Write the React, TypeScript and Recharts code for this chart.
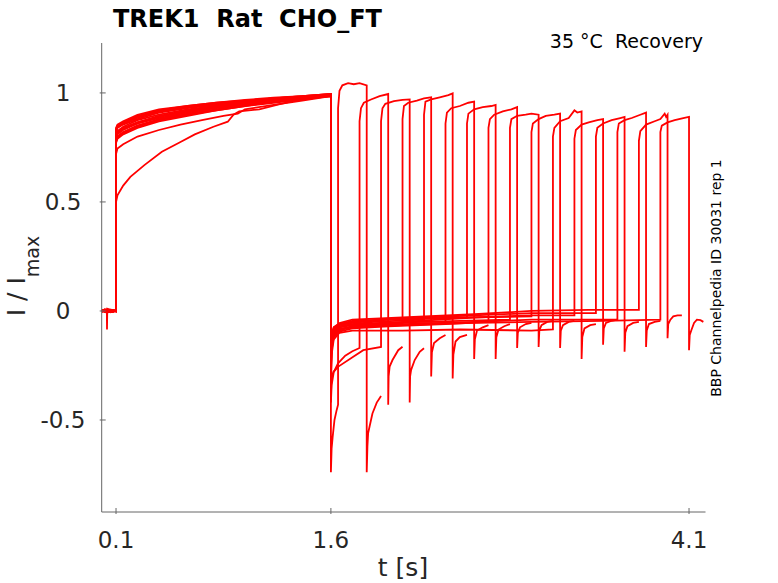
import React from 'react';
import { LineChart, Line, XAxis, YAxis } from 'recharts';

// recovery protocol, 16 sweeps, each as [t (s), I/Imax]
const sweep00 = [
  [0, 0.0], [0.02, 0.006], [0.036, -0.004], [0.037, -0.085], [0.039, 0.01], [0.07, 0.004], [0.1, 0.0],
  [0.1, 0.5], [0.11, 0.53], [0.15, 0.575], [0.2, 0.615], [0.3, 0.67], [0.42, 0.73], [0.55, 0.775], [0.65, 0.81], [0.78, 0.845], [0.88, 0.868], [0.92, 0.9], [0.96, 0.915], [1.1, 0.925], [1.25, 0.95], [1.35, 0.965], [1.5, 0.98], [1.6, 0.99],
  [1.6, -0.74], [1.605, -0.63], [1.612, -0.58], [1.625, -0.5], [1.64, -0.455], [1.65, -0.43],
  [1.65, 0.93], [1.66, 1.01], [1.68, 1.035], [1.72, 1.045], [1.76, 1.04], [1.8, 1.045], [1.85, 1.035],
  [1.85, -0.74], [1.855, -0.62], [1.86, -0.56], [1.87, -0.53], [1.89, -0.47], [1.92, -0.42], [1.95, -0.39],
];
const sweep01 = [
  [0, 0.004], [0.03, -0.006], [0.06, 0.005], [0.1, -0.002],
  [0.1, 0.72], [0.11, 0.745], [0.15, 0.765], [0.25, 0.8], [0.4, 0.83], [0.55, 0.855], [0.7, 0.875], [0.85, 0.895], [0.95, 0.905], [1.0, 0.925], [1.2, 0.945], [1.4, 0.965], [1.6, 0.985],
  [1.6, -0.42], [1.605, -0.34], [1.62, -0.28], [1.65, -0.24], [1.7, -0.205], [1.75, -0.185], [1.8, -0.17],
  [1.8, 0.87], [1.81, 0.93], [1.83, 0.955], [1.88, 0.97], [1.94, 0.985], [2.0, 0.995],
  [2.0, -0.43], [2.003, -0.3], [2.01, -0.255], [2.03, -0.225], [2.07, -0.18], [2.1, -0.164],
];
const sweep02 = [
  [0, -0.003], [0.04, 0.006], [0.07, -0.005], [0.1, 0.003],
  [0.1, 0.78], [0.11, 0.8], [0.15, 0.82], [0.25, 0.85], [0.4, 0.875], [0.6, 0.9], [0.8, 0.925], [1.0, 0.945], [1.2, 0.96], [1.4, 0.975], [1.6, 0.99],
  [1.6, -0.38], [1.605, -0.31], [1.617, -0.28], [1.652, -0.255], [1.756, -0.21], [1.826, -0.18], [1.95, -0.165],
  [1.95, 0.87], [1.96, 0.93], [1.98, 0.95], [2.04, 0.962], [2.1, 0.968], [2.15, 0.97],
  [2.15, -0.42], [2.153, -0.3], [2.16, -0.27], [2.185, -0.225], [2.22, -0.187], [2.25, -0.171],
];
const sweep03 = [
  [0, 0.002], [0.03, 0.008], [0.06, -0.004], [0.1, 0.001],
  [0.1, 0.83], [0.11, 0.845], [0.15, 0.86], [0.25, 0.89], [0.4, 0.915], [0.6, 0.935], [0.8, 0.95], [1.0, 0.965], [1.2, 0.975], [1.4, 0.985], [1.6, 0.995],
  [1.6, -0.28], [1.605, -0.16], [1.62, -0.11], [1.66, -0.085], [1.75, -0.075], [1.9, -0.065], [2.0, -0.06], [2.1, -0.055],
  [2.1, 0.88], [2.11, 0.94], [2.14, 0.955], [2.2, 0.965], [2.25, 0.975], [2.3, 0.98],
  [2.3, -0.3], [2.305, -0.19], [2.32, -0.147], [2.36, -0.125], [2.4, -0.11],
];
const sweep04 = [
  [0, -0.004], [0.02, 0.005], [0.05, -0.006], [0.08, 0.004], [0.1, 0.0],
  [0.1, 0.8], [0.11, 0.815], [0.15, 0.835], [0.25, 0.865], [0.4, 0.89], [0.6, 0.915], [0.8, 0.935], [1.0, 0.95], [1.2, 0.965], [1.4, 0.98], [1.6, 0.99],
  [1.6, -0.22], [1.605, -0.13], [1.62, -0.095], [1.66, -0.07], [1.75, -0.06], [1.9, -0.05], [2.05, -0.045], [2.25, -0.04],
  [2.25, 0.9], [2.26, 0.96], [2.3, 0.97], [2.36, 0.98], [2.42, 0.99], [2.45, 0.998],
  [2.45, -0.31], [2.455, -0.2], [2.47, -0.14], [2.5, -0.12], [2.55, -0.11],
];
const sweep05 = [
  [0, 0.003], [0.04, -0.005], [0.07, 0.006], [0.1, -0.002],
  [0.1, 0.77], [0.11, 0.79], [0.15, 0.81], [0.25, 0.84], [0.4, 0.87], [0.6, 0.895], [0.8, 0.92], [1.0, 0.94], [1.2, 0.955], [1.4, 0.97], [1.6, 0.985],
  [1.6, -0.3], [1.605, -0.17], [1.62, -0.12], [1.66, -0.09], [1.75, -0.07], [2.0, -0.06], [2.2, -0.05], [2.4, -0.05],
  [2.4, 0.86], [2.41, 0.91], [2.44, 0.93], [2.5, 0.94], [2.56, 0.955], [2.6, 0.96],
  [2.6, -0.22], [2.605, -0.13], [2.62, -0.09], [2.66, -0.075], [2.7, -0.065],
];
const sweep06 = [
  [0, 0.0], [0.03, -0.006], [0.06, 0.005], [0.1, 0.002],
  [0.1, 0.82], [0.11, 0.84], [0.15, 0.855], [0.25, 0.88], [0.4, 0.91], [0.6, 0.93], [0.8, 0.945], [1.0, 0.96], [1.2, 0.97], [1.4, 0.98], [1.6, 0.99],
  [1.6, -0.2], [1.605, -0.12], [1.62, -0.085], [1.66, -0.065], [1.75, -0.055], [2.0, -0.04], [2.3, -0.035], [2.55, -0.03],
  [2.55, 0.86], [2.56, 0.905], [2.6, 0.925], [2.66, 0.935], [2.72, 0.94], [2.75, 0.945],
  [2.75, -0.22], [2.755, -0.12], [2.77, -0.085], [2.81, -0.07], [2.85, -0.06],
];
const sweep07 = [
  [0, 0.005], [0.02, -0.003], [0.05, 0.004], [0.1, -0.003],
  [0.1, 0.79], [0.11, 0.81], [0.15, 0.83], [0.25, 0.86], [0.4, 0.885], [0.6, 0.91], [0.8, 0.93], [1.0, 0.95], [1.2, 0.965], [1.4, 0.975], [1.6, 0.99],
  [1.6, -0.33], [1.605, -0.18], [1.62, -0.12], [1.66, -0.095], [1.75, -0.08], [2.0, -0.07], [2.4, -0.06], [2.7, -0.05],
  [2.7, 0.84], [2.71, 0.88], [2.74, 0.9], [2.8, 0.915], [2.86, 0.925], [2.9, 0.935],
  [2.9, -0.17], [2.905, -0.1], [2.92, -0.075], [2.96, -0.06], [3.0, -0.055],
];
const sweep08 = [
  [0, -0.002], [0.03, 0.006], [0.07, -0.004], [0.1, 0.001],
  [0.1, 0.835], [0.11, 0.85], [0.15, 0.865], [0.25, 0.895], [0.4, 0.92], [0.6, 0.94], [0.8, 0.955], [1.0, 0.965], [1.2, 0.975], [1.4, 0.985], [1.6, 0.995],
  [1.6, -0.25], [1.605, -0.14], [1.62, -0.1], [1.66, -0.075], [1.75, -0.065], [2.0, -0.055], [2.5, -0.045], [2.85, -0.04],
  [2.85, 0.84], [2.86, 0.88], [2.9, 0.895], [2.96, 0.9], [3.0, 0.905], [3.05, 0.9],
  [3.05, -0.165], [3.055, -0.09], [3.07, -0.065], [3.11, -0.05], [3.15, -0.045],
];
const sweep09 = [
  [0, 0.004], [0.04, -0.004], [0.08, 0.005], [0.1, 0.0],
  [0.1, 0.775], [0.11, 0.795], [0.15, 0.815], [0.25, 0.845], [0.4, 0.875], [0.6, 0.9], [0.8, 0.92], [1.0, 0.94], [1.2, 0.96], [1.4, 0.975], [1.6, 0.985],
  [1.6, -0.18], [1.605, -0.11], [1.62, -0.075], [1.66, -0.06], [1.75, -0.05], [2.0, -0.04], [2.5, -0.03], [3.0, -0.025],
  [3.0, 0.82], [3.01, 0.86], [3.05, 0.88], [3.1, 0.895], [3.16, 0.9], [3.2, 0.905],
  [3.2, -0.17], [3.205, -0.09], [3.22, -0.065], [3.26, -0.05], [3.3, -0.045],
];
const sweep10 = [
  [0, -0.003], [0.03, 0.004], [0.06, -0.006], [0.1, 0.002],
  [0.1, 0.8], [0.11, 0.82], [0.15, 0.84], [0.25, 0.865], [0.4, 0.895], [0.6, 0.92], [0.8, 0.94], [1.0, 0.955], [1.2, 0.97], [1.4, 0.98], [1.6, 0.99],
  [1.6, -0.35], [1.605, -0.2], [1.62, -0.13], [1.66, -0.1], [1.75, -0.09], [2.1, -0.09], [2.5, -0.085], [3.0, -0.09], [3.15, -0.085],
  [3.15, 0.8], [3.16, 0.84], [3.2, 0.87], [3.26, 0.885], [3.3, 0.92], [3.32, 0.91], [3.35, 0.915],
  [3.35, -0.22], [3.355, -0.12], [3.37, -0.08], [3.41, -0.065], [3.45, -0.06],
];
const sweep11 = [
  [0, 0.001], [0.02, 0.007], [0.05, -0.003], [0.1, 0.0],
  [0.1, 0.84], [0.11, 0.855], [0.15, 0.87], [0.25, 0.9], [0.4, 0.925], [0.6, 0.94], [0.8, 0.955], [1.0, 0.968], [1.2, 0.978], [1.4, 0.985], [1.6, 0.995],
  [1.6, -0.24], [1.605, -0.13], [1.62, -0.09], [1.66, -0.07], [1.75, -0.06], [2.1, -0.05], [2.6, -0.03], [3.0, -0.02], [3.3, -0.02],
  [3.3, 0.79], [3.31, 0.83], [3.35, 0.855], [3.4, 0.865], [3.46, 0.875], [3.5, 0.88],
  [3.5, -0.155], [3.505, -0.08], [3.52, -0.055], [3.56, -0.045], [3.6, -0.04],
];
const sweep12 = [
  [0, 0.003], [0.04, -0.006], [0.07, 0.004], [0.1, -0.001],
  [0.1, 0.81], [0.11, 0.825], [0.15, 0.845], [0.25, 0.875], [0.4, 0.9], [0.6, 0.925], [0.8, 0.94], [1.0, 0.955], [1.2, 0.968], [1.4, 0.98], [1.6, 0.99],
  [1.6, -0.21], [1.605, -0.12], [1.62, -0.08], [1.66, -0.06], [1.75, -0.045], [2.1, -0.035], [2.6, -0.02], [3.0, -0.01], [3.45, -0.01],
  [3.45, 0.8], [3.46, 0.84], [3.5, 0.86], [3.56, 0.875], [3.62, 0.885], [3.65, 0.89],
  [3.65, -0.187], [3.655, -0.1], [3.67, -0.07], [3.71, -0.055], [3.75, -0.05],
];
const sweep13 = [
  [0, -0.002], [0.03, 0.005], [0.06, -0.005], [0.1, 0.002],
  [0.1, 0.785], [0.11, 0.8], [0.15, 0.82], [0.25, 0.85], [0.4, 0.88], [0.6, 0.905], [0.8, 0.925], [1.0, 0.945], [1.2, 0.96], [1.4, 0.972], [1.6, 0.985],
  [1.6, -0.27], [1.605, -0.15], [1.62, -0.105], [1.66, -0.085], [1.75, -0.07], [2.1, -0.06], [2.6, -0.05], [3.0, -0.04], [3.6, -0.04],
  [3.6, 0.82], [3.61, 0.86], [3.65, 0.875], [3.7, 0.885], [3.76, 0.9], [3.8, 0.91],
  [3.8, -0.165], [3.805, -0.09], [3.82, -0.06], [3.86, -0.05], [3.9, -0.045],
];
const sweep14 = [
  [0, 0.004], [0.02, -0.004], [0.06, 0.006], [0.1, 0.0],
  [0.1, 0.825], [0.11, 0.84], [0.15, 0.86], [0.25, 0.885], [0.4, 0.915], [0.6, 0.935], [0.8, 0.95], [1.0, 0.962], [1.2, 0.972], [1.4, 0.982], [1.6, 0.993],
  [1.6, -0.19], [1.605, -0.11], [1.62, -0.075], [1.66, -0.055], [1.75, -0.04], [2.1, -0.03], [2.6, -0.015], [3.0, 0.0], [3.4, 0.005], [3.75, 0.005],
  [3.75, 0.78], [3.76, 0.825], [3.8, 0.855], [3.86, 0.87], [3.9, 0.88], [3.93, 0.905], [3.94, 0.89], [3.95, 0.9],
  [3.95, -0.125], [3.955, -0.06], [3.97, -0.04], [3.99, -0.025], [4.02, -0.02], [4.05, -0.02],
];
const sweep15 = [
  [0, -0.004], [0.04, 0.004], [0.08, -0.005], [0.1, 0.001],
  [0.1, 0.795], [0.11, 0.815], [0.15, 0.835], [0.25, 0.86], [0.4, 0.89], [0.6, 0.915], [0.8, 0.935], [1.0, 0.952], [1.2, 0.966], [1.4, 0.978], [1.6, 0.99],
  [1.6, -0.26], [1.605, -0.14], [1.62, -0.1], [1.66, -0.08], [1.75, -0.075], [2.1, -0.065], [2.6, -0.055], [3.0, -0.05], [3.5, -0.045], [3.9, -0.04],
  [3.9, 0.82], [3.91, 0.85], [3.95, 0.865], [4.0, 0.875], [4.06, 0.885], [4.1, 0.89],
  [4.1, -0.18], [4.105, -0.11], [4.118, -0.085], [4.135, -0.055], [4.155, -0.04], [4.18, -0.042], [4.2, -0.05],
];

const sweeps = [
  sweep00, sweep01, sweep02, sweep03, sweep04, sweep05, sweep06, sweep07,
  sweep08, sweep09, sweep10, sweep11, sweep12, sweep13, sweep14, sweep15,
];

const xTicks = [0.1, 1.6, 4.1];
const yTicks = [-0.5, 0, 0.5, 1];

const FONT = '"DejaVu Sans", sans-serif';
const AXIS = '#666666';
const INK = '#262626';

function XTick(props: any) {
  const { x, y, payload } = props;
  return (
    <g>
      <line x1={x} x2={x} y1={y} y2={y - 6} stroke={AXIS} />
      <text x={x} y={y + 34} textAnchor="middle" fontSize={23} fontFamily={FONT} fill={INK}>
        {payload.value}
      </text>
    </g>
  );
}

function YTick(props: any) {
  const { x, y, payload } = props;
  return (
    <g>
      <line x1={x} x2={x + 6} y1={y} y2={y} stroke={AXIS} />
      <text x={63} y={y + 8} textAnchor="middle" fontSize={23} fontFamily={FONT} fill={INK}>
        {payload.value}
      </text>
    </g>
  );
}

export default function App() {
  const series = sweeps.map((s) => s.map(([t, y]) => ({ t, y })));
  return (
    <div style={{ position: 'absolute', left: 0, top: 0, width: 778, height: 583, background: '#fff' }}>
      <LineChart width={778} height={583} margin={{ top: 43, right: 72.5, bottom: 31, left: 0 }}>
        <XAxis
          type="number"
          dataKey="t"
          domain={[0, 4.215]}
          ticks={xTicks}
          height={40}
          tickSize={0}
          tickLine={false}
          tick={<XTick />}
          stroke={AXIS}
          allowDataOverflow
        />
        <YAxis
          type="number"
          domain={[-0.922, 1.229]}
          ticks={yTicks}
          width={101.7}
          tickSize={0}
          tickLine={false}
          tick={<YTick />}
          stroke={AXIS}
          allowDataOverflow
        />
        {series.map((d, i) => (
          <Line
            key={i}
            data={d}
            dataKey="y"
            type="linear"
            stroke="#ff0000"
            strokeWidth={1.8}
            dot={false}
            isAnimationActive={false}
          />
        ))}
      </LineChart>
      <svg width={778} height={583} style={{ position: 'absolute', left: 0, top: 0, pointerEvents: 'none' }}>
        <text x={113} y={27} fontSize={24} fontWeight="bold" fontFamily={FONT} fill="#000" xmlSpace="preserve" style={{ whiteSpace: 'pre' }}>
          TREK1  Rat  CHO_FT
        </text>
        <text x={703} y={48} textAnchor="end" fontSize={19} fontFamily={FONT} fill="#000" xmlSpace="preserve" style={{ whiteSpace: 'pre' }}>
          35 °C  Recovery
        </text>
        <text x={403} y={576} textAnchor="middle" fontSize={25} fontFamily={FONT} fill={INK}>
          t [s]
        </text>
        <text transform="rotate(-90)" x={-276} y={25} textAnchor="middle" fontSize={25} fontFamily={FONT} fill={INK} xmlSpace="preserve" style={{ whiteSpace: 'pre' }}>
          I / I<tspan fontSize={19} dy={14}>max</tspan>
        </text>
        <text transform="rotate(-90)" x={-278} y={721} textAnchor="middle" fontSize={14} fontFamily={FONT} fill="#000">
          BBP Channelpedia ID 30031 rep 1
        </text>
      </svg>
    </div>
  );
}
